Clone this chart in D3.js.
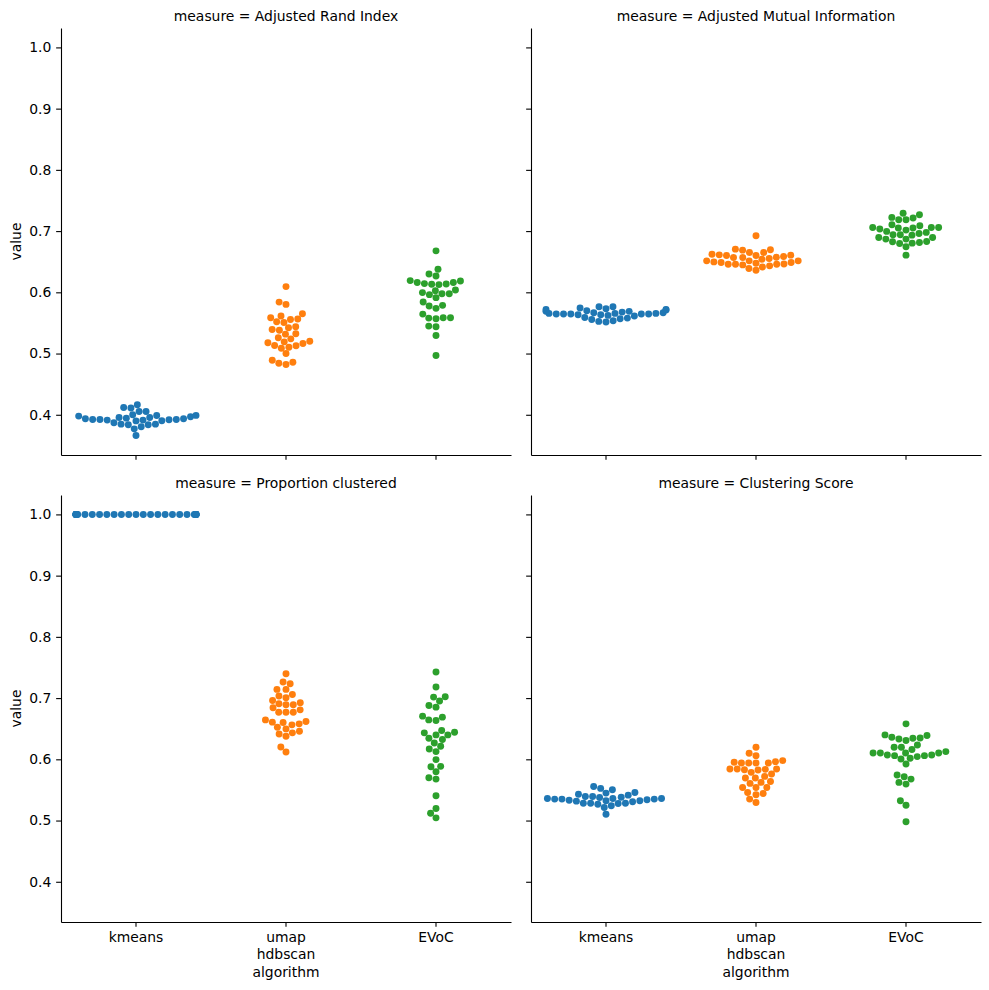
<!DOCTYPE html>
<html><head><meta charset="utf-8">
<script src="https://cdn.jsdelivr.net/npm/d3@7"></script>
<style>body{margin:0;background:#fff} text{font-family:"DejaVu Sans",sans-serif}</style>
</head><body><svg id="c" width="989" height="990"></svg>
<script>
const algorithms = ["kmeans", "umap\nhdbscan", "EVoC"];
const measures = ["Adjusted Rand Index", "Adjusted Mutual Information", "Proportion clustered", "Clustering Score"];
const yTicks = [0.4, 0.5, 0.6, 0.7, 0.8, 0.9, 1.0];
const colors = ["#1f77b4", "#ff7f0e", "#2ca02c"];

// Adjusted Rand Index
const ariKmeans = [0.3956,0.3934,0.3923,0.3913,0.3902,0.3989,0.3869,0.3967,0.3847,0.4054,0.3923,0.4164,0.3803,0.412,0.411,0.4054,0.400,0.399,0.3956,0.390,0.3836,0.3836,0.3847,0.377,0.366,0.3913,0.3918,0.3923,0.3934,0.3945,0.3978];
const ariUmap = [0.6093,0.584,0.5803,0.565,0.5612,0.5585,0.552,0.5508,0.5557,0.5563,0.5393,0.542,0.538,0.5437,0.5317,0.5322,0.524,0.5202,0.5257,0.5191,0.5164,0.5131,0.5126,0.5175,0.5087,0.5104,0.500,0.489,0.4841,0.482,0.4858];
const ariEvoc = [0.6677,0.6377,0.6268,0.630,0.6186,0.6159,0.6137,0.6126,0.6131,0.6142,0.6159,0.6191,0.6038,0.5995,0.5962,0.5913,0.5978,0.5978,0.6027,0.5841,0.5776,0.5738,0.5787,0.5644,0.5579,0.5568,0.5585,0.5585,0.5448,0.5437,0.5295,0.4967];
// Adjusted Mutual Information
const amiKmeans = [0.570,0.5677,0.5656,0.5645,0.5645,0.5765,0.5743,0.5721,0.5732,0.5765,0.571,0.5645,0.5634,0.5623,0.5612,0.5656,0.5667,0.5689,0.5645,0.5634,0.5579,0.5557,0.5536,0.5514,0.5525,0.5568,0.559,0.5645,0.5656,0.5667,0.5689,0.5721];
const amiUmap = [0.6923,0.6705,0.6689,0.6651,0.6694,0.6623,0.6601,0.6585,0.6568,0.6552,0.6612,0.6541,0.6568,0.6574,0.6601,0.6607,0.6651,0.6514,0.6497,0.6486,0.6459,0.6448,0.6475,0.6432,0.6415,0.6459,0.6459,0.6464,0.6486,0.6514,0.6514,0.6388,0.6361];
const amiEvoc = [0.7268,0.729,0.7224,0.7186,0.7186,0.7213,0.706,0.7049,0.7016,0.7033,0.7104,0.706,0.7049,0.7087,0.6995,0.706,0.6896,0.6896,0.694,0.6869,0.6979,0.6869,0.6934,0.694,0.6962,0.6825,0.6798,0.6743,0.6803,0.6814,0.6831,0.6607];
// Proportion clustered
const propKmeans = [1,1,1,1,1,1,1,1,1,1,1,1,1,1,1,1,1,1,1,1,1,1,1,1,1,1,1,1,1,1];
const propUmap = [0.7399,0.7235,0.7262,0.7142,0.7142,0.7033,0.7005,0.706,0.6962,0.6923,0.689,0.689,0.6907,0.6841,0.6808,0.677,0.677,0.677,0.6644,0.6601,0.6607,0.6563,0.6579,0.6618,0.6525,0.6497,0.6432,0.6459,0.6415,0.6377,0.620,0.612];
const propEvoc = [0.7426,0.718,0.7016,0.6951,0.7022,0.688,0.6852,0.6705,0.6644,0.6634,0.6689,0.647,0.6432,0.6399,0.6344,0.6323,0.6399,0.6443,0.6268,0.6213,0.6169,0.6126,0.5995,0.5885,0.588,0.5798,0.570,0.5677,0.5405,0.5197,0.512,0.5044];
// Clustering Score
const csKmeans = [0.5393,0.5361,0.535,0.5339,0.5317,0.5284,0.5393,0.5284,0.5377,0.5284,0.5503,0.5557,0.5415,0.5459,0.5448,0.5525,0.5431,0.5306,0.5241,0.5267,0.5279,0.5323,0.5103,0.5213,0.535,0.5361,0.5323,0.5333,0.535,0.5361,0.5382];
const csUmap = [0.6197,0.6098,0.606,0.5979,0.5939,0.5939,0.5939,0.5951,0.5939,0.5962,0.5841,0.5831,0.5787,0.5825,0.5841,0.5836,0.5841,0.5721,0.5694,0.5694,0.5759,0.5639,0.5623,0.5607,0.5541,0.5541,0.5541,0.5459,0.5443,0.5421,0.535,0.5295];
const csEvoc = [0.6579,0.6388,0.6349,0.6399,0.6333,0.6344,0.6361,0.6306,0.6234,0.6197,0.6126,0.6159,0.6197,0.6104,0.6071,0.6044,0.6005,0.6104,0.6104,0.606,0.606,0.6071,0.6104,0.6016,0.5923,0.5743,0.5716,0.5677,0.5623,0.5595,0.5323,0.5251,0.4979];

const panelData = [
  [ariKmeans, ariUmap, ariEvoc],
  [amiKmeans, amiUmap, amiEvoc],
  [propKmeans, propUmap, propEvoc],
  [csKmeans, csUmap, csEvoc]
];

const svg = d3.select("#c");
const FS = 13.9;
const tick = 4.86, pad = 4.86;
const panelLeft = [61, 531], panelW = 450;
const panelTop = [28, 495], panelH = 427;
const R = 3.47;

const allVals = panelData.flat(2);
const [vmin, vmax] = d3.extent(allVals);
const m = (vmax - vmin) * 0.05;

function beeswarm(ys, r) {
  const idx = d3.range(ys.length).sort((a, b) => ys[b] - ys[a] || a - b);
  const swarm = [];
  const out = new Array(ys.length);
  for (const i of idx) {
    const y = ys[i];
    if (!swarm.length) { swarm.push({x: 0, y}); out[i] = 0; continue; }
    const neighbors = [];
    for (let k = swarm.length - 1; k >= 0; k--) {
      if (Math.abs(y - swarm[k].y) < 2 * r) neighbors.push(swarm[k]); else break;
    }
    const cands = [0];
    let leftFirst = true;
    for (const n of neighbors) {
      const dy = y - n.y;
      const dx = Math.sqrt(Math.max(4 * r * r - dy * dy, 0)) * 1.05;
      const cl = n.x - dx, cr = n.x + dx;
      if (leftFirst) cands.push(cl, cr); else cands.push(cr, cl);
      leftFirst = !leftFirst;
    }
    const order = cands.map((c, k) => k).sort((a, b) => Math.abs(cands[a]) - Math.abs(cands[b]) || a - b);
    let chosen = 0;
    for (const k of order) {
      const cx = cands[k];
      if (neighbors.every(n => (n.x - cx) ** 2 + (n.y - y) ** 2 >= 4 * r * r - 1e-6)) { chosen = cx; break; }
    }
    swarm.push({x: chosen, y}); out[i] = chosen;
  }
  return out;
}

measures.forEach((meas, p) => {
  const col = p % 2, row = Math.floor(p / 2);
  const x0 = panelLeft[col], y0 = panelTop[row];
  const g = svg.append("g");
  const x = d3.scaleBand().domain(algorithms).range([x0, x0 + panelW]).padding(0);
  const y = d3.scaleLinear().domain([vmin - m, vmax + m]).range([y0 + panelH, y0]);
  const half = x.bandwidth() * 0.4;

  // points
  panelData[p].forEach((vals, ci) => {
    const ys = vals.map(v => y(v));
    const offs = beeswarm(ys, R).map(o => Math.max(-half, Math.min(half, o)));
    const cx = x(algorithms[ci]) + x.bandwidth() / 2;
    g.append("g").selectAll("circle").data(vals).join("circle")
      .attr("cx", (d, i) => cx + offs[i])
      .attr("cy", d => y(d))
      .attr("r", R)
      .attr("fill", colors[ci]);
  });

  // y axis
  const ya = g.append("g").attr("transform", `translate(${x0},0)`)
    .call(d3.axisLeft(y).tickValues(yTicks).tickSize(tick).tickSizeOuter(0).tickPadding(pad).tickFormat(d3.format(".1f")));
  ya.selectAll("text").attr("font-size", FS).attr("font-family", "DejaVu Sans").attr("fill", "#000");
  if (col === 1) ya.selectAll(".tick text").remove();
  // x axis
  const xa = g.append("g").attr("transform", `translate(0,${y0 + panelH})`)
    .call(d3.axisBottom(x).tickSize(tick).tickSizeOuter(0).tickPadding(pad).tickFormat(""));
  if (row === 1) {
    xa.selectAll(".tick").each(function(d) {
      const lines = d.split("\n");
      const t = d3.select(this).append("text").attr("fill", "#000").attr("font-size", FS)
        .attr("font-family", "DejaVu Sans").attr("text-anchor", "middle").attr("y", tick + pad + 10.6);
      lines.forEach((l, li) => t.append("tspan").attr("x", 0).attr("dy", li === 0 ? 0 : 16.2).text(l));
    });
    svg.append("text").attr("x", x0 + panelW / 2).attr("y", 977).attr("text-anchor", "middle")
      .attr("font-size", FS).text("algorithm");
  }
  g.selectAll(".domain, .tick line").attr("stroke", "#000").attr("stroke-width", 1.1);

  if (col === 0) {
    svg.append("text").attr("transform", `translate(21,${y0 + panelH / 2}) rotate(-90)`)
      .attr("text-anchor", "middle").attr("font-size", FS).text("value");
  }
  svg.append("text").attr("x", x0 + panelW / 2).attr("y", y0 - 7).attr("text-anchor", "middle")
    .attr("font-size", FS).text("measure = " + meas);
});
</script></body></html>
